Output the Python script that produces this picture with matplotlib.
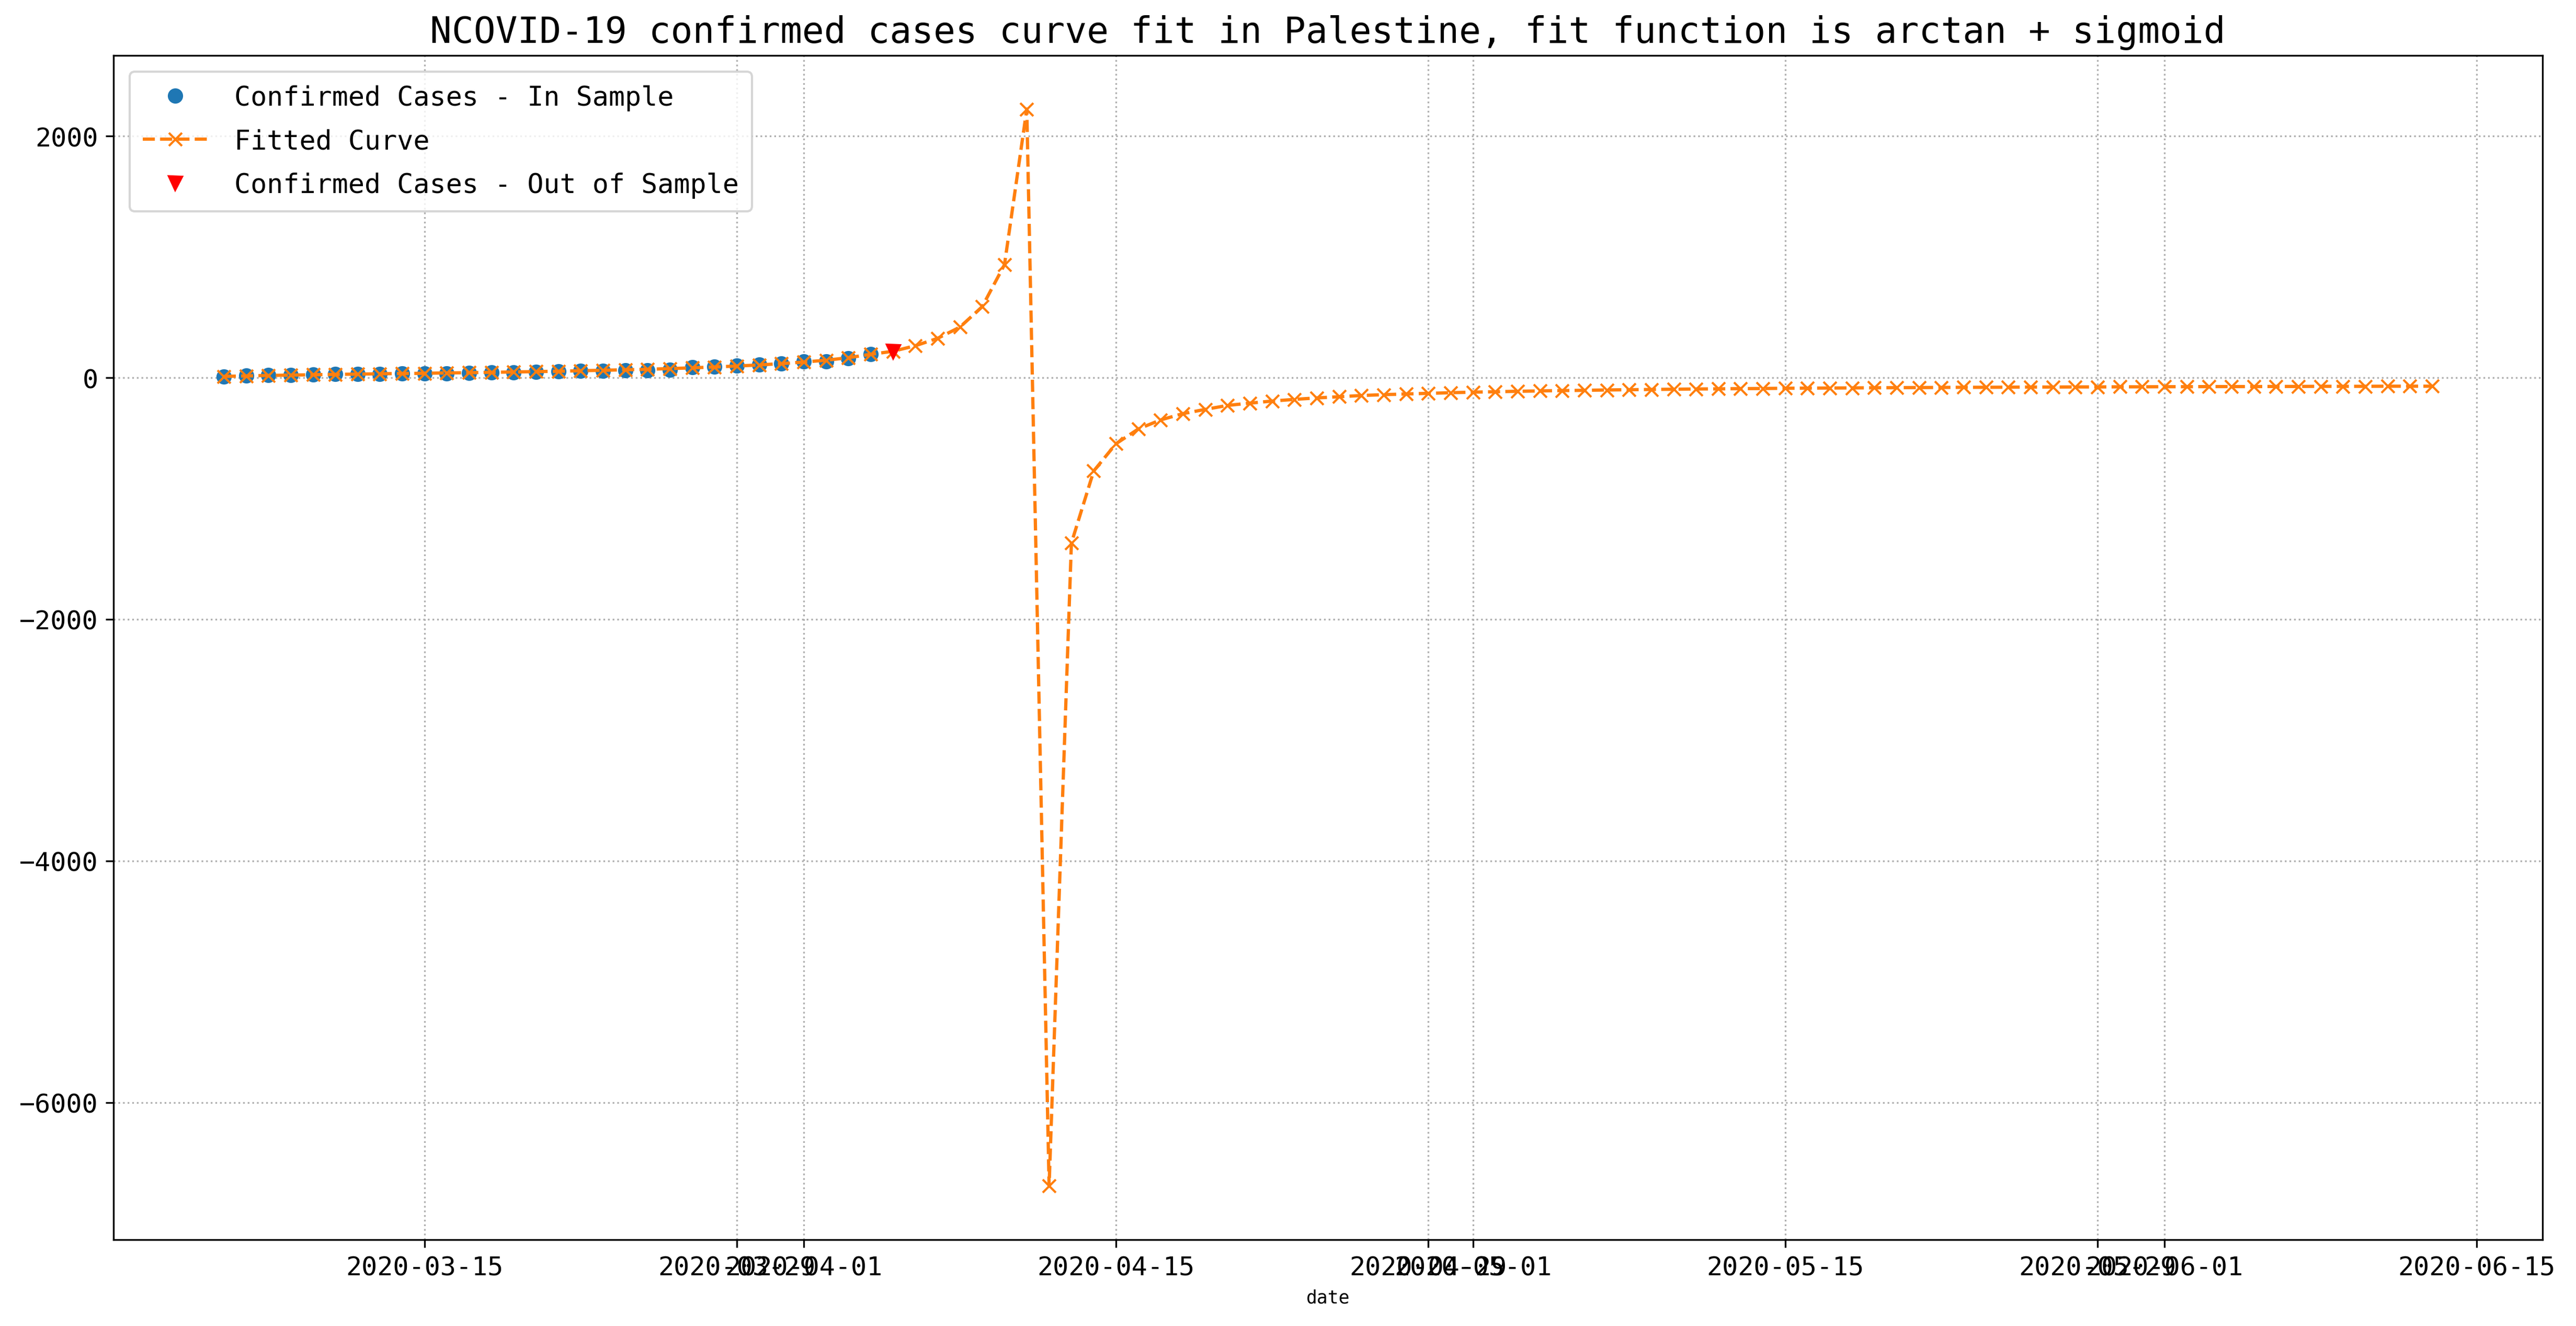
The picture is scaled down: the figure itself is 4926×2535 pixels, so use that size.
# -*- coding: utf-8 -*-
"""
NCOVID-19 confirmed cases in Palestine with an arctan + sigmoid curve fit.
"""

import matplotlib
matplotlib.use('Agg')
import matplotlib.pyplot as plt
import matplotlib.dates as mdates
from matplotlib import font_manager
import numpy as np
import pandas as pd

#%%
# Data
fit_start = '2020-03-06'
fit_end = '2020-06-13'
sample_start = '2020-03-06'
sample_end = '2020-04-04'
out_dates = ['2020-04-05']

# Confirmed cases, in sample (2020-03-06 .. 2020-04-04)
cases_in = [10, 17, 22, 23, 26, 29, 32, 33, 36, 35,
            35, 39, 42, 43, 48, 52, 59, 59, 61, 61,
            65, 86, 91, 99, 109, 117, 135, 136, 162, 196]

# Confirmed cases, out of sample
cases_out = [217]

# Fitted curve (2020-03-06 .. 2020-06-13)
fitted = [11, 15, 19, 22, 25, 28, 30, 33, 35, 37,
          40, 42, 45, 48, 51, 54, 58, 62, 66, 70,
          76, 82, 89, 97, 106, 117, 130, 145, 166, 194,
          219, 265, 326, 419, 588, 936, 2224, -6690,
          -1368, -772, -546, -424, -349, -297, -262, -229, -210, -193,
          -179, -167, -157, -147, -140, -134, -129, -124,
          -119, -116, -112, -109, -106, -104, -101, -99, -97, -95,
          -93, -92, -90, -89, -87, -86, -85, -84, -83, -82,
          -81, -80, -79, -79, -78, -77, -77, -76, -76, -75, -75,
          -74, -74, -73, -73, -73, -72, -72, -71, -71, -71,
          -70, -70, -70]

dates_in = pd.date_range(sample_start, sample_end, freq='D')
dates_fit = pd.date_range(fit_start, fit_end, freq='D')
dates_out = pd.to_datetime(out_dates)

#%%
# Font: narrow monospaced latin if available
names = {f.name for f in font_manager.fontManager.ttflist}
if 'Noto Sans Mono CJK SC' in names:
    plt.rcParams['font.family'] = ['Noto Sans Mono CJK SC', 'DejaVu Sans Mono']
    fs_title, fs_tick, fs_leg, fs_lab = 20, 14, 15, 10
    leg_scale = 1.0
else:
    plt.rcParams['font.family'] = ['DejaVu Sans Mono']
    fs_title, fs_tick, fs_leg, fs_lab = 16.7, 12, 12.4, 8.3
    leg_scale = 15 / 12.4

#%%
pl = plt.figure(1, figsize=(16.42, 8.453), dpi=300)
ax1 = pl.add_subplot(111)
pl.subplots_adjust(left=0.044, right=0.987, top=0.958, bottom=0.065)

ax1.plot(dates_in, cases_in, 'o', label='Confirmed Cases - In Sample')
ax1.plot(dates_fit, fitted, '--x', label='Fitted Curve')
ax1.plot(dates_out, cases_out, 'rv', label='Confirmed Cases - Out of Sample')

ax1.xaxis.set_major_locator(mdates.DayLocator(bymonthday=[1, 15, 29]))
ax1.xaxis.set_major_formatter(mdates.DateFormatter('%Y-%m-%d'))
ax1.tick_params(axis='both', labelsize=fs_tick)

ax1.set_xlabel('date', fontsize=fs_lab)
ax1.set_title('NCOVID-19 confirmed cases curve fit in Palestine, '
              'fit function is arctan + sigmoid', fontsize=fs_title)
ax1.grid(linestyle=':')
ax1.legend(loc='upper left', fontsize=fs_leg,
           handlelength=2.0 * leg_scale, handletextpad=0.8 * leg_scale,
           borderpad=0.4 * leg_scale, labelspacing=0.65,
           borderaxespad=0.5 * leg_scale)

plt.savefig('out.png', dpi=300)
